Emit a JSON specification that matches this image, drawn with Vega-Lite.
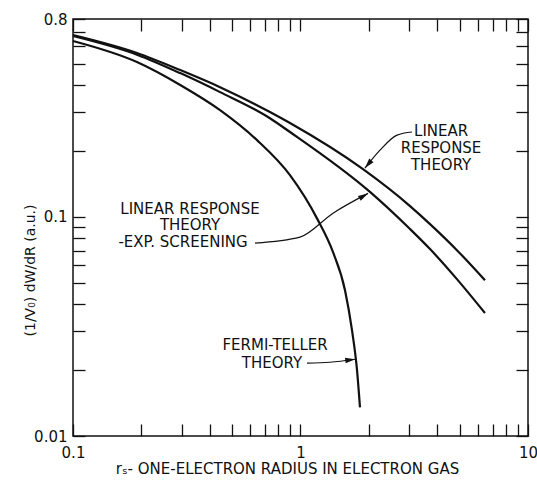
{
  "$schema": "https://vega.github.io/schema/vega-lite/v6.json",
  "width": 455,
  "height": 417,
  "autosize": {"type": "none"},
  "padding": {"left": 73, "top": 19, "right": 9, "bottom": 49},
  "background": "white",
  "config": {
    "view": {"stroke": "#111", "strokeWidth": 1.5},
    "font": "DejaVu Sans",
    "axis": {
      "domain": false,
      "grid": false,
      "tickColor": "#111",
      "tickWidth": 1.3,
      "tickSize": -12,
      "labelFont": "DejaVu Sans",
      "labelFontSize": 15,
      "labelColor": "#111",
      "labelOverlap": false,
      "labelFlush": false,
      "labelBound": false,
      "titleFont": "DejaVu Sans",
      "titleColor": "#111",
      "titleFontWeight": "normal"
    }
  },
  "datasets": {
    "curves": [
      {"curve": "LRT", "r": 0.1, "w": 0.676},
      {"curve": "LRT", "r": 0.191, "w": 0.56},
      {"curve": "LRT", "r": 0.296, "w": 0.468},
      {"curve": "LRT", "r": 0.443, "w": 0.391},
      {"curve": "LRT", "r": 0.734, "w": 0.301},
      {"curve": "LRT", "r": 0.899, "w": 0.268},
      {"curve": "LRT", "r": 1.883, "w": 0.165},
      {"curve": "LRT", "r": 3.03, "w": 0.112},
      {"curve": "LRT", "r": 3.71, "w": 0.0927},
      {"curve": "LRT", "r": 4.87, "w": 0.0705},
      {"curve": "LRT", "r": 6.47, "w": 0.0514},
      {"curve": "EXP", "r": 0.1, "w": 0.669},
      {"curve": "EXP", "r": 0.191, "w": 0.55},
      {"curve": "EXP", "r": 0.296, "w": 0.453},
      {"curve": "EXP", "r": 0.443, "w": 0.371},
      {"curve": "EXP", "r": 0.734, "w": 0.282},
      {"curve": "EXP", "r": 0.899, "w": 0.244},
      {"curve": "EXP", "r": 2.02, "w": 0.13},
      {"curve": "EXP", "r": 3.03, "w": 0.088},
      {"curve": "EXP", "r": 3.71, "w": 0.0713},
      {"curve": "EXP", "r": 4.87, "w": 0.052},
      {"curve": "EXP", "r": 6.47, "w": 0.0364},
      {"curve": "FT", "r": 0.1, "w": 0.635},
      {"curve": "FT", "r": 0.191, "w": 0.509},
      {"curve": "FT", "r": 0.296, "w": 0.4},
      {"curve": "FT", "r": 0.443, "w": 0.307},
      {"curve": "FT", "r": 0.644, "w": 0.224},
      {"curve": "FT", "r": 0.899, "w": 0.155},
      {"curve": "FT", "r": 1.18, "w": 0.0987},
      {"curve": "FT", "r": 1.39, "w": 0.069},
      {"curve": "FT", "r": 1.569, "w": 0.0463},
      {"curve": "FT", "r": 1.684, "w": 0.0304},
      {"curve": "FT", "r": 1.772, "w": 0.02},
      {"curve": "FT", "r": 1.826, "w": 0.0135}
    ],
    "labels": [
      {"text": "LINEAR", "x": 4.15, "y": 0.2464},
      {"text": "RESPONSE", "x": 4.15, "y": 0.206},
      {"text": "THEORY", "x": 4.15, "y": 0.172},
      {"text": "LINEAR RESPONSE", "x": 0.327, "y": 0.1085},
      {"text": "THEORY", "x": 0.327, "y": 0.0917},
      {"text": "-EXP. SCREENING", "x": 0.3045, "y": 0.0767},
      {"text": "FERMI-TELLER", "x": 0.773, "y": 0.026},
      {"text": "THEORY", "x": 0.749, "y": 0.0215}
    ],
    "arrows": [
      {"arrow": "a", "i": 1, "x": 3.09, "y": 0.244},
      {"arrow": "a", "i": 2, "x": 2.656, "y": 0.236},
      {"arrow": "a", "i": 3, "x": 2.236, "y": 0.2017},
      {"arrow": "a", "i": 4, "x": 1.92, "y": 0.167},
      {"arrow": "b", "i": 1, "x": 0.631, "y": 0.0759},
      {"arrow": "b", "i": 2, "x": 0.995, "y": 0.0808},
      {"arrow": "b", "i": 3, "x": 1.39, "y": 0.104},
      {"arrow": "b", "i": 4, "x": 1.98, "y": 0.128},
      {"arrow": "c", "i": 1, "x": 1.068, "y": 0.0215},
      {"arrow": "c", "i": 2, "x": 1.348, "y": 0.0217},
      {"arrow": "c", "i": 3, "x": 1.74, "y": 0.0224}
    ],
    "heads": [
      {"x": 1.92, "y": 0.167, "angle": 130},
      {"x": 1.98, "y": 0.128, "angle": 330},
      {"x": 1.74, "y": 0.0224, "angle": 353}
    ]
  },
  "layer": [
    {
      "data": {"name": "curves"},
      "mark": {"type": "line", "color": "#111", "strokeWidth": 2.2, "interpolate": "monotone"},
      "encoding": {
        "x": {
          "field": "r", "type": "quantitative",
          "scale": {"type": "log", "domain": [0.1, 10], "nice": false},
          "axis": {
            "orient": "bottom",
            "values": [0.1, 0.2, 0.3, 0.4, 0.5, 0.6, 0.7, 0.8, 0.9, 1, 2, 3, 4, 5, 6, 7, 8, 9, 10],
            "labelExpr": "datum.value == 0.1 ? '0.1' : datum.value == 1 ? '1' : datum.value == 10 ? '10' : ''",
            "labelPadding": 21,
            "title": "rₛ- ONE-ELECTRON RADIUS IN ELECTRON GAS",
            "titleFontSize": 15,
            "titleX": 214,
            "titleY": 32,
            "titleBaseline": "middle",
            "encode": {"ticks": {"update": {"y2": {"signal": "datum.value == 1 ? -16 : -12"}}}}
          }
        },
        "y": {
          "field": "w", "type": "quantitative",
          "scale": {"type": "log", "domain": [0.01, 0.8], "nice": false},
          "axis": {
            "orient": "left",
            "values": [0.01, 0.02, 0.03, 0.04, 0.05, 0.06, 0.07, 0.08, 0.09, 0.1, 0.2, 0.3, 0.4, 0.5, 0.6, 0.7, 0.8],
            "labelExpr": "datum.value == 0.01 ? '0.01' : datum.value == 0.1 ? '0.1' : datum.value == 0.8 ? '0.8' : ''",
            "labelPadding": 18,
            "title": "(1/V₀) dW/dR (a.u.)",
            "titleFontSize": 14,
            "titleX": -43,
            "titleY": 251,
            "titleBaseline": "middle",
            "encode": {"ticks": {"update": {"x2": {"signal": "datum.value == 0.1 ? 16 : 12"}}}}
          }
        },
        "detail": {"field": "curve"}
      }
    },
    {
      "data": {"name": "labels"},
      "mark": {"type": "text", "fontSize": 15, "color": "#111", "align": "center", "baseline": "middle", "font": "DejaVu Sans"},
      "encoding": {
        "x": {
          "field": "x", "type": "quantitative",
          "axis": {
            "orient": "top",
            "values": [0.1, 0.2, 0.3, 0.4, 0.5, 0.6, 0.7, 0.8, 0.9, 1, 2, 3, 4, 5, 6, 7, 8, 9, 10],
            "labels": false,
            "title": null,
            "encode": {"ticks": {"update": {"y2": {"signal": "datum.value == 1 ? 18 : 12"}}}}
          }
        },
        "y": {
          "field": "y", "type": "quantitative",
          "axis": {
            "orient": "right",
            "values": [0.01, 0.02, 0.03, 0.04, 0.05, 0.06, 0.07, 0.08, 0.09, 0.1, 0.2, 0.3, 0.4, 0.5, 0.6, 0.7, 0.8],
            "labels": false,
            "title": null
          }
        },
        "text": {"field": "text"}
      }
    },
    {
      "data": {"name": "arrows"},
      "mark": {"type": "line", "color": "#111", "strokeWidth": 1.2, "interpolate": "monotone"},
      "encoding": {
        "x": {"field": "x", "type": "quantitative", "axis": null},
        "y": {"field": "y", "type": "quantitative", "axis": null},
        "detail": {"field": "arrow"}
      }
    },
    {
      "data": {"name": "heads"},
      "mark": {"type": "point", "filled": true, "color": "#111", "opacity": 1, "shape": "M0,0L-1,-0.28L-1,0.28Z", "size": 400, "strokeWidth": 0},
      "encoding": {
        "x": {"field": "x", "type": "quantitative", "axis": null},
        "y": {"field": "y", "type": "quantitative", "axis": null},
        "angle": {"field": "angle", "type": "quantitative", "scale": null}
      }
    }
  ],
  "resolve": {"axis": {"x": "independent", "y": "independent"}}
}
